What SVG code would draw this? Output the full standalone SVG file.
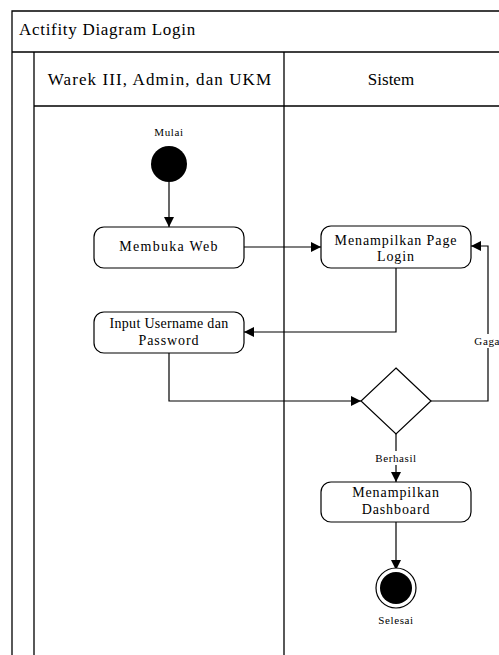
<svg xmlns="http://www.w3.org/2000/svg" width="499" height="655" viewBox="0 0 499 655">
<style>
text{font-family:"Liberation Serif","Times New Roman",serif;fill:#000}
.frame{fill:none;stroke:#000;stroke-width:1.3}
.node{fill:#fff;stroke:#000;stroke-width:1.2}
.t{font-size:14px;text-anchor:middle;letter-spacing:0.9px}
.lbl{font-size:11px;text-anchor:middle;letter-spacing:0.6px}
.hd{font-size:17px;text-anchor:middle}
.edge{fill:none;stroke:#000;stroke-width:1.2;marker-end:url(#arr)}
</style>
<defs>
<marker id="arr" viewBox="0 0 10 10" refX="10" refY="5" markerWidth="10" markerHeight="10" markerUnits="userSpaceOnUse" orient="auto">
<path d="M0,0 L10,5 L0,10 z" fill="#000"/>
</marker>
</defs>
<rect width="499" height="655" fill="#fff"/>
<g id="frame">
<path class="frame" d="M12,655 V11 H499 M12,52 H499 M34,52 V655 M34,106 H499 M284,52 V655"/>
<text x="19" y="35" style="font-size:17px;letter-spacing:0.7px">Actifity Diagram Login</text>
<text class="hd" x="160" y="85" style="letter-spacing:1.1px">Warek III, Admin, dan UKM</text>
<text class="hd" x="391" y="85">Sistem</text>
</g>
<g id="edges">
<path class="edge" d="M169,182 V227"/>
<path class="edge" d="M244,247 H321"/>
<path class="edge" d="M396,268 V332 H244"/>
<path class="edge" d="M169,353 V401 H361"/>
<path class="edge" d="M431,401 H488 V246 H471"/>
<path class="edge" d="M396,434 V482"/>
<path class="edge" d="M396,522 V570"/>
<rect x="473" y="334" width="26" height="14" fill="#fff"/>
<text class="lbl" x="489" y="345">Gagal</text>
<rect x="374" y="451" width="44" height="14" fill="#fff"/>
<text class="lbl" x="396" y="462">Berhasil</text>
</g>
<g id="start">
<circle cx="169" cy="164" r="18" fill="#000"/>
<text class="lbl" x="169" y="136">Mulai</text>
</g>
<g id="membuka-web">
<rect class="node" x="94" y="227" width="150" height="41" rx="10"/>
<text class="t" x="169" y="251" style="letter-spacing:1.3px">Membuka Web</text>
</g>
<g id="page-login">
<rect class="node" x="321" y="226" width="150" height="42" rx="10"/>
<text class="t" x="396" y="245">Menampilkan Page</text>
<text class="t" x="396" y="261">Login</text>
</g>
<g id="input">
<rect class="node" x="94" y="312" width="150" height="41" rx="10"/>
<text class="t" x="169" y="328" style="letter-spacing:0.3px">Input Username dan</text>
<text class="t" x="169" y="345">Password</text>
</g>
<g id="decision">
<path class="node" d="M396,368 L431,401 L396,434 L361,401 Z"/>
</g>
<g id="dashboard">
<rect class="node" x="321" y="482" width="150" height="40" rx="10"/>
<text class="t" x="396" y="497">Menampilkan</text>
<text class="t" x="396" y="514">Dashboard</text>
</g>
<g id="end">
<circle cx="396" cy="588" r="20" fill="#fff" stroke="#000" stroke-width="1.2"/>
<circle cx="396" cy="588" r="16" fill="#000"/>
<text class="lbl" x="396" y="624">Selesai</text>
</g>
</svg>
